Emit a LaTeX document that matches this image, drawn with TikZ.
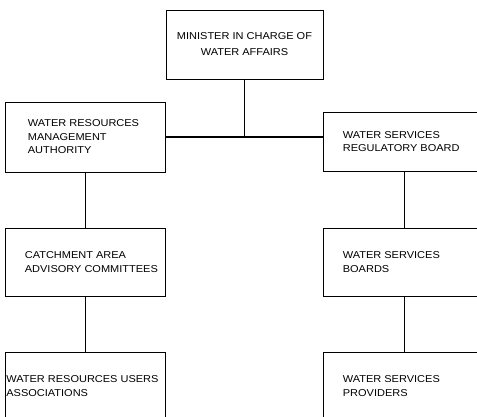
\documentclass[tikz,border=0pt]{standalone}
\usepackage{fontspec}
\setmainfont{Liberation Sans}[FakeStretch=1.1]
\usepackage{tikz}

\tikzset{
	unit/.style={draw, line width=0.7pt, minimum width=160pt, minimum height=69pt, inner sep=0pt},
	caption/.style={anchor=west, align=left, inner sep=0pt, font=\fontsize{10}{13.5}\selectfont},
	link/.style={line width=0.7pt},
	mainlink/.style={line width=1.5pt}
}

\begin{document}
\begin{tikzpicture}[x=1pt, y=1pt]
		 %\draw[help lines] (0,0) grid (477,416);
		 \clip (0,0) rectangle (477,416);
		 
		 \node[unit, minimum width=157pt, align=center, font=\fontsize{10}{16}\selectfont] (minister) at (244.5,371.5) {MINISTER IN CHARGE OF\\WATER AFFAIRS};
		 
		 \node[unit, minimum height=70pt, label={[caption, xshift=23pt]west:WATER RESOURCES\\MANAGEMENT\\AUTHORITY}] (wrma) at (85,279) {};
		 \node[unit, minimum width=162pt, minimum height=59pt, label={[caption, xshift=20pt]west:WATER SERVICES\\REGULATORY BOARD}] (wsrb) at (404,274.5) {};
		 
		 \node[unit, minimum height=68pt, label={[caption, xshift=20pt]west:CATCHMENT AREA\\ADVISORY COMMITTEES}] (caac) at (85,154) {};
		 \node[unit, minimum width=162pt, minimum height=68pt, label={[caption, xshift=20pt]west:WATER SERVICES\\BOARDS}] (wsb) at (404,154) {};
		 
		 \node[unit, minimum height=68pt, label={[caption, xshift=1.5pt]west:WATER RESOURCES USERS\\ASSOCIATIONS}] (wrua) at (85,30) {};
		 \node[unit, minimum width=162pt, minimum height=68pt, label={[caption, xshift=20pt]west:WATER SERVICES\\PROVIDERS}] (wsp) at (404,30) {};
		 
		 \draw[link] (minister) -- (minister |- wrma.east);
		 \draw[mainlink] (wrma) -- (wrma -| wsrb.west);
		 \draw[link] (wrma) -- (caac);
		 \draw[link] (caac) -- (wrua);
		 \draw[link, line width=1pt] (wsrb) -- (wsb);
		 \draw[link, line width=1pt] (wsb) -- (wsp);
\end{tikzpicture}
\end{document}
